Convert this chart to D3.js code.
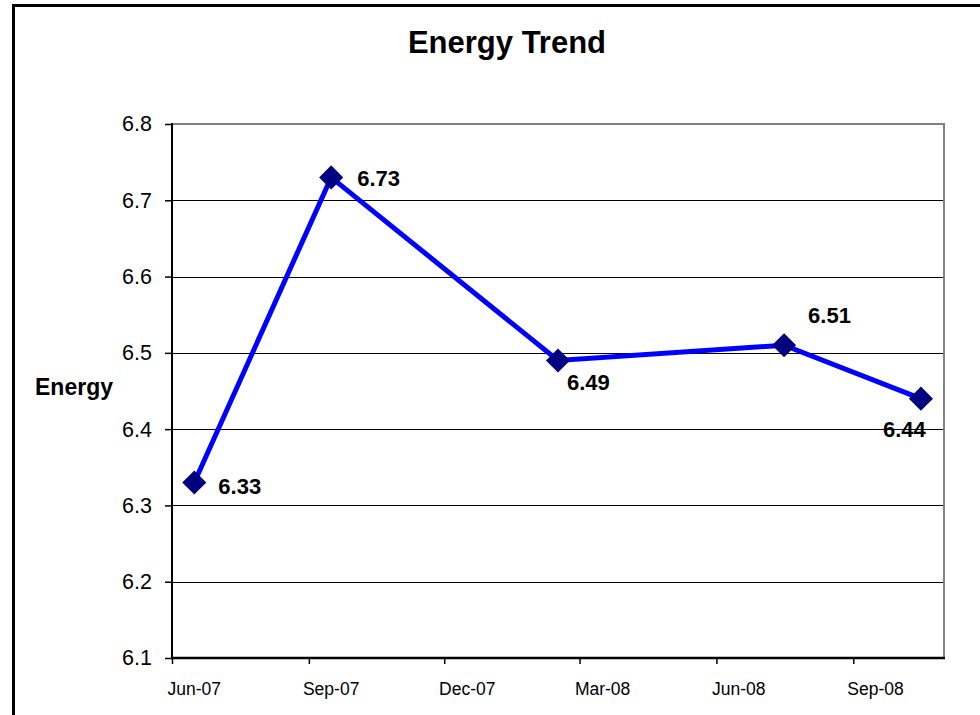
<!DOCTYPE html>
<html>
<head>
<meta charset="utf-8">
<script src="https://cdn.jsdelivr.net/npm/d3@7"></script>
<style>
  html, body { margin: 0; padding: 0; background: #fff; }
  svg { display: block; }
  text { font-family: "Liberation Sans", Arial, sans-serif; }
</style>
</head>
<body>
<svg id="chart" width="980" height="715"></svg>
<script>
// ---- data ----
const months = ["2007-06", "2007-09", "2008-02", "2008-07", "2008-10"];
const energy = [6.33, 6.73, 6.49, 6.51, 6.44];
const xTickLabels = ["Jun-07", "Sep-07", "Dec-07", "Mar-08", "Jun-08", "Sep-08"];
const yTicks = [6.1, 6.2, 6.3, 6.4, 6.5, 6.6, 6.7, 6.8];
const title = "Energy Trend";
const yTitle = "Energy";

// label placement (annotation layout, px offsets from marker)
const labelOffsets = [[24, 11], [26, 9], [9, 30], [24, -22], [-38, 38]];

const svg = d3.select("#chart");
const W = 980, H = 715;
const m = { left: 172, top: 124, right: 944, bottom: 658 };

const parseM = d3.timeParse("%Y-%m");
const parseL = d3.timeParse("%b-%y");
const midMonth = d => new Date((d.getTime() + d3.timeMonth.offset(d, 1).getTime()) / 2);

const x = d3.scaleTime()
  .domain([parseM("2007-06"), parseM("2008-11")])
  .range([m.left, m.right]);
const y = d3.scaleLinear().domain([6.1, 6.8]).range([m.bottom, m.top]);

svg.append("rect").attr("width", W).attr("height", H).attr("fill", "#fff");

// outer frame (only top & left visible)
svg.append("path")
  .attr("d", `M13.5,${H + 5} V5.5 H${W + 5}`)
  .attr("fill", "none").attr("stroke", "#000").attr("stroke-width", 3);

// title
svg.append("text").attr("x", 507).attr("y", 53)
  .attr("text-anchor", "middle").attr("font-weight", "bold")
  .attr("font-size", 31).text(title);

// gridlines
svg.append("g").selectAll("line")
  .data(yTicks.filter(v => v > 6.1 && v < 6.8))
  .join("line")
  .attr("x1", m.left).attr("x2", m.right)
  .attr("y1", d => Math.round(y(d)) + 0.5).attr("y2", d => Math.round(y(d)) + 0.5)
  .attr("stroke", "#000").attr("stroke-width", 1);

// plot border top/right (gray)
svg.append("path")
  .attr("d", `M${m.left},${m.top} H${m.right} V${m.bottom}`)
  .attr("fill", "none").attr("stroke", "#808080").attr("stroke-width", 2);

// y axis
const yAxis = d3.axisLeft(y).tickValues(yTicks).tickFormat(d3.format(".1f")).tickSize(7).tickPadding(13);
const gy = svg.append("g").attr("transform", `translate(${m.left},0)`).call(yAxis);
gy.select(".domain").remove();
gy.selectAll(".tick line").attr("stroke", "#000").attr("stroke-width", 1.5);
gy.selectAll(".tick text").attr("font-size", 21.5).attr("fill", "#000")
  .attr("font-family", "'Liberation Sans', Arial, sans-serif");

// x axis ticks
const tickDates = xTickLabels.map(parseL);
const xAxis = d3.axisBottom(x).tickValues(tickDates).tickSize(6).tickFormat("");
const gx = svg.append("g").attr("transform", `translate(0,${m.bottom})`).call(xAxis);
gx.select(".domain").remove();
gx.selectAll(".tick line").attr("stroke", "#000").attr("stroke-width", 1.5);

// x labels (centered on months)
svg.append("g").selectAll("text")
  .data(xTickLabels)
  .join("text")
  .attr("x", d => x(midMonth(parseL(d))))
  .attr("y", 695)
  .attr("text-anchor", "middle")
  .attr("font-size", 17.5)
  .text(d => d);

// axis lines
svg.append("line").attr("x1", m.left).attr("x2", m.left)
  .attr("y1", m.top - 1).attr("y2", m.bottom + 1)
  .attr("stroke", "#000").attr("stroke-width", 2);
svg.append("line").attr("x1", m.left - 1).attr("x2", m.right + 1)
  .attr("y1", m.bottom).attr("y2", m.bottom)
  .attr("stroke", "#000").attr("stroke-width", 2.5);

// y title
svg.append("text").attr("x", 74).attr("y", 395)
  .attr("text-anchor", "middle").attr("font-weight", "bold")
  .attr("font-size", 23).text(yTitle);

// data
const pts = months.map((mm, i) => ({ d: midMonth(parseM(mm)), v: energy[i], off: labelOffsets[i] }));

svg.append("path")
  .datum(pts)
  .attr("d", d3.line().x(p => x(p.d)).y(p => y(p.v)))
  .attr("fill", "none").attr("stroke", "#0000FF").attr("stroke-width", 5)
  .attr("stroke-linejoin", "miter");

svg.append("g").selectAll("path")
  .data(pts)
  .join("path")
  .attr("transform", p => `translate(${x(p.d)},${y(p.v)}) rotate(45)`)
  .attr("d", d3.symbol().type(d3.symbolSquare).size(290))
  .attr("fill", "#000080");

svg.append("g").selectAll("text")
  .data(pts)
  .join("text")
  .attr("x", p => x(p.d) + p.off[0])
  .attr("y", p => y(p.v) + p.off[1])
  .attr("font-weight", "bold").attr("font-size", 22)
  .text(p => d3.format(".2f")(p.v));
</script>
</body>
</html>
